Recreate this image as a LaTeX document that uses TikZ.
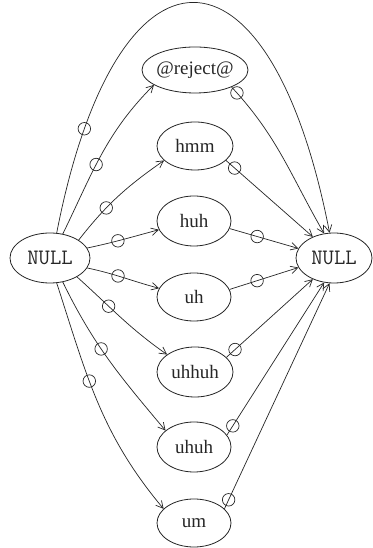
\documentclass[tikz,border=0pt]{standalone}
\usepackage{fontspec}
\setmainfont{Liberation Serif}
\usetikzlibrary{shapes.geometric,arrows.meta}
\newcommand\zw[1]{\makebox[0pt]{#1}}
\begin{document}
\begin{tikzpicture}[x=1pt,y=1pt,
  st/.style={draw=black!85, ellipse, inner sep=0pt, minimum width=76pt, minimum height=48pt,
    font=\fontsize{19}{22}\selectfont, text=black!85, line width=0.8pt},
  nul/.style={st, minimum width=80pt, minimum height=50pt, font=\ttfamily\fontsize{22}{24}\selectfont},
  ed/.style={draw=black!85, line width=0.7pt, -{Straight Barb[length=7pt,width=7.5pt]}},
  mk/.style={draw=black!85, circle, inner sep=0pt, minimum size=12.5pt, line width=0.7pt}]
\useasboundingbox[fill=white] (0,0) rectangle (372,548);
\node[nul] (L) at (50,290) {\zw{NULL}};
\node[nul, minimum width=76pt] (R) at (334,290) {\zw{NULL}};
\node[st, minimum width=106pt, minimum height=46pt] (rej) at (195,478) {\zw{@reject@}};
\node[st] (hmm) at (195,402) {\zw{hmm}};
\node[st, minimum width=74pt, minimum height=50pt] (huh) at (194,327) {\zw{huh}};
\node[st, minimum width=74pt] (uh) at (194,251) {\zw{uh}};
\node[st, minimum height=50pt] (uhhuh) at (195,176) {\zw{uhhuh}};
\node[st, minimum width=74pt, minimum height=50pt] (uhuh) at (194,101) {\zw{uhuh}};
\node[st, minimum width=74pt] (um) at (194,25) {\zw{um}};
% left fan
\draw[ed] (L.75) to[out=79,in=101,looseness=2.94] node[mk,pos=0.13]{} (R.100);
\draw[ed] (L.62) to[out=64,in=225] node[mk,pos=0.43]{} (rej.200);
\draw[ed] (L.32) to[out=52,in=215] node[mk,pos=0.35]{} (hmm.205);
\draw[ed] (L.15) to[out=12,in=195] node[mk,pos=0.42]{} (huh.194);
\draw[ed] (L.-15) to[out=-12,in=165] node[mk,pos=0.42]{} (uh.166);
\draw[ed] (L.-35) to[out=-42,in=145] node[mk,pos=0.35]{} (uhhuh.148);
\draw[ed] (L.-62) to[out=-64,in=130] node[mk,pos=0.42]{} (uhuh.150);
\draw[ed] (L.-75) to[out=-72,in=130] node[mk,pos=0.40]{} (um.155);
% right fan
\draw[ed] (rej.-25) to[out=-47,in=120] node[mk,pos=0.04]{} (R.112);
\draw[ed] (hmm.-25) -- node[mk,pos=0.1]{} (R.135);
\draw[ed] (huh.-12) -- node[mk,pos=0.4]{} (R.165);
\draw[ed] (uh.12) -- node[mk,pos=0.4]{} (R.-165);
\draw[ed] (uhhuh.25) -- node[mk,pos=0.1]{} (R.-135);
\draw[ed] (uhuh.20) -- node[mk,pos=0.06]{} (R.-112);
\draw[ed] (um.25) -- node[mk,pos=0.04]{} (R.-100);
\end{tikzpicture}
\end{document}
